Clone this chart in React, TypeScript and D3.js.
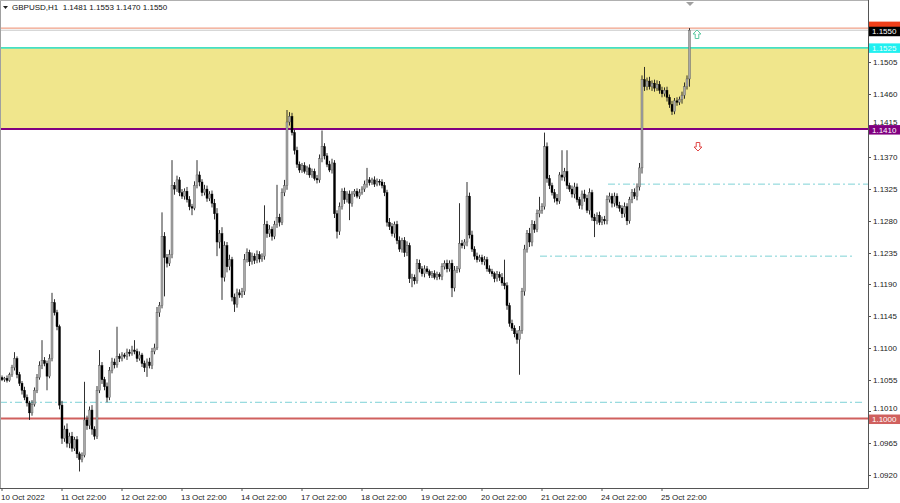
import React from 'react';
import * as d3 from 'd3';

const W = 900;
const H = 503;

// Hourly closes, in pips: price = 1 + v / 10000
const FIRST_OPEN_PIPS = 1058;
const CLOSE_PIPS = [
  1055,1057,1054,1062,1072,1085,1062,1050,1040,1030,1022,1008,1020,1040,1058,1075,1082,1078,1060,1085,1164,1150,1130,1019,
  972,985,965,975,958,970,950,942,948,998,990,1012,985,975,1040,1075,1055,1045,1030,1068,1080,1076,1088,1085,
  1090,1088,1094,1092,1097,1095,1085,1090,1078,1072,1080,1075,1095,1100,1150,1160,1258,1228,1220,1232,1330,1325,1338,1320,
  1315,1322,1310,1300,1298,1330,1345,1335,1320,1325,1312,1318,1305,1290,1250,1262,1200,1245,1215,1225,1172,1162,1178,1175,
  1180,1225,1235,1222,1230,1224,1232,1226,1230,1275,1262,1268,1258,1275,1285,1278,1320,1330,1420,1428,1405,1380,1360,1352,
  1358,1350,1355,1345,1350,1340,1338,1368,1385,1372,1360,1352,1362,1290,1265,1300,1322,1310,1318,1305,1318,1322,1315,1320,
  1325,1332,1338,1334,1338,1332,1336,1335,1330,1320,1278,1272,1262,1275,1252,1240,1252,1235,1245,1198,1200,1195,1220,1212,
  1205,1212,1208,1203,1205,1200,1204,1201,1215,1220,1212,1220,1185,1210,1212,1248,1245,1250,1315,1260,1240,1230,1225,1228,
  1222,1225,1212,1208,1205,1198,1204,1200,1192,1188,1160,1135,1128,1120,1112,1125,1180,1240,1262,1250,1275,1268,1290,1295,
  1300,1385,1340,1330,1320,1312,1308,1345,1342,1350,1330,1325,1318,1328,1310,1302,1318,1312,1295,1320,1285,1280,1288,1278,
  1282,1280,1310,1315,1305,1315,1302,1298,1290,1300,1280,1310,1320,1315,1328,1355,1480,1470,1478,1470,1475,1468,1473,1465,
  1460,1465,1455,1445,1435,1450,1448,1452,1458,1470,1481,1550,
];
// Upper wick above the body, in pips
const WICK_UP = [
  3,2,4,3,4,9,3,4,3,5,4,3,6,4,5,6,29,5,4,6,14,5,4,3,
  6,5,8,5,6,4,5,3,4,54,6,5,7,4,6,22,5,4,6,5,6,5,42,4,
  4,3,5,4,6,14,4,5,3,4,5,6,5,6,8,5,34,6,5,7,36,5,6,4,
  5,4,6,5,4,6,21,5,4,6,5,4,5,6,8,5,9,6,5,7,4,5,6,5,
  5,8,6,4,5,4,6,5,4,27,5,6,4,5,46,5,6,8,17,6,5,4,5,4,
  4,5,3,5,4,4,5,6,23,5,4,5,6,4,5,6,4,5,4,5,4,3,4,5,
  4,5,17,4,3,5,4,3,4,5,4,6,5,4,5,6,4,5,6,4,5,4,6,5,
  4,5,4,3,4,5,4,3,5,4,5,4,5,6,4,57,5,4,20,5,6,4,5,4,
  4,5,4,5,4,3,5,4,6,33,5,4,5,4,5,6,5,6,5,8,6,5,6,19,
  5,20,6,5,4,5,6,4,35,5,30,4,5,6,5,4,5,6,5,6,4,5,4,5,
  4,5,6,5,4,5,4,5,4,6,5,4,5,6,5,7,6,18,5,6,4,5,6,5,
  5,4,5,4,5,4,5,4,5,6,5,3,
];
// Lower wick below the body, in pips
const WICK_DN = [
  2,3,3,2,3,4,5,4,6,4,5,10,4,3,4,3,5,4,20,3,4,4,5,6,
  8,5,6,7,5,4,6,17,4,3,6,5,8,5,4,4,6,5,7,4,4,5,4,5,
  4,3,5,4,3,4,5,3,5,6,13,4,5,4,3,6,4,55,6,4,5,8,4,5,
  4,5,4,5,10,3,4,6,5,4,5,4,6,8,20,9,32,6,8,5,6,11,5,4,
  4,5,4,6,4,5,4,5,4,5,6,5,6,4,5,6,4,5,6,5,4,6,5,4,
  4,3,5,4,4,3,5,4,5,5,4,3,5,6,10,5,4,6,4,24,5,4,3,4,
  3,4,5,4,3,4,3,5,4,5,6,5,4,6,5,4,5,6,5,6,12,5,4,5,
  4,5,3,4,4,3,4,4,5,4,5,4,13,5,4,5,4,5,6,5,4,5,4,3,
  4,5,4,3,4,5,4,5,4,5,6,5,4,5,6,50,5,6,5,7,6,5,4,5,
  5,4,6,5,4,6,5,4,5,6,5,4,5,6,4,5,6,5,4,6,5,23,5,4,
  4,5,5,4,6,5,4,5,6,5,6,4,5,4,6,5,8,6,5,4,6,5,4,5,
  5,4,6,5,5,4,5,4,6,5,4,11,
];

const TIME_LABELS = [
  '10 Oct 2022', '11 Oct 22:00', '12 Oct 22:00', '13 Oct 22:00', '14 Oct 22:00', '17 Oct 22:00',
  '18 Oct 22:00', '19 Oct 22:00', '20 Oct 22:00', '21 Oct 22:00', '24 Oct 22:00', '25 Oct 22:00',
];
const TIME_LABEL_BARS = [0, 24, 48, 72, 96, 120, 144, 168, 192, 216, 240, 264];

const PRICE_TICKS = [
  1.1505, 1.1460, 1.1415, 1.1370, 1.1325, 1.1280, 1.1235, 1.1190, 1.1145,
  1.1100, 1.1055, 1.1010, 1.0965, 1.0920,
];

const HEADER = 'GBPUSD,H1  1.1481 1.1553 1.1470 1.1550';
const ZONE_LOW = 1.1410;
const ZONE_HIGH = 1.1525;
const SUPPORT = 1.1000;
const HIGH_LINE = 1.1553;
const BID = 1.1550;
const DASH_LEVELS = [
  { price: 1.1332, fromBar: 242.4, toBar: 346.4 },
  { price: 1.1230, fromBar: 215.2, toBar: 341.2 },
  { price: 1.1023, fromBar: -0.8, toBar: 344 },
];

const FONT = '"Liberation Sans", Arial, sans-serif';

export default function App() {
  const plotRight = 868;
  const plotBottom = 488;
  const x = d3.scaleLinear().domain([0, 275]).range([2, 2 + 275 * 2.5]);
  const y = d3.scaleLinear().domain([1.092, 1.1505]).range([475, 62]);
  const p = (v: number) => 1 + v / 10000;

  const candles = CLOSE_PIPS.map((c, i) => {
    const o = i === 0 ? FIRST_OPEN_PIPS : CLOSE_PIPS[i - 1];
    const hi = Math.max(o, c) + WICK_UP[i];
    const lo = Math.min(o, c) - WICK_DN[i];
    return { i, o: p(o), c: p(c), h: p(hi), l: p(lo) };
  });

  const tag = (price: number, label: string | null, bg: string, fg: string, key: string, dy = 0) => {
    const yy = y(price) + dy;
    return (
      <g key={key}>
        <rect x={plotRight + 1} y={yy - 4.5} width={W - plotRight - 1} height={9.5} fill={bg} />
        {label ? <text x={872} y={yy + 3} fontSize={8} fill={fg} fontFamily={FONT}>{label}</text> : null}
      </g>
    );
  };

  const upArrow = (cx: number, ty: number) =>
    `M${cx},${ty} L${cx - 4},${ty + 4} L${cx - 1.8},${ty + 4} L${cx - 1.8},${ty + 8.5} L${cx + 1.8},${ty + 8.5} L${cx + 1.8},${ty + 4} L${cx + 4},${ty + 4} Z`;
  const downArrow = (cx: number, by: number) =>
    `M${cx},${by} L${cx - 4},${by - 4} L${cx - 1.8},${by - 4} L${cx - 1.8},${by - 8.5} L${cx + 1.8},${by - 8.5} L${cx + 1.8},${by - 4} L${cx + 4},${by - 4} Z`;

  return (
    <svg width={W} height={H} style={{ position: 'absolute', left: 0, top: 0, background: '#fff' }}>
      <rect x={0} y={0} width={W} height={H} fill="#fff" />
      <rect x={0} y={y(ZONE_HIGH)} width={plotRight} height={y(ZONE_LOW) - y(ZONE_HIGH)} fill="#f0e68c" />
      <line x1={0} x2={plotRight} y1={y(HIGH_LINE)} y2={y(HIGH_LINE)} stroke="#ec8a6a" strokeWidth={1} />
      <line x1={0} x2={plotRight} y1={y(BID)} y2={y(BID)} stroke="#c8c8c8" strokeWidth={1} />
      <line x1={0} x2={plotRight} y1={y(ZONE_HIGH)} y2={y(ZONE_HIGH)} stroke="#45e0c4" strokeWidth={1.6} />
      <line x1={0} x2={plotRight} y1={y(ZONE_LOW)} y2={y(ZONE_LOW)} stroke="#800080" strokeWidth={2} />
      <line x1={0} x2={plotRight} y1={y(SUPPORT)} y2={y(SUPPORT)} stroke="#d0605e" strokeWidth={2} />
      {DASH_LEVELS.map((d, k) => (
        <line key={'dl' + k} x1={x(d.fromBar)} x2={x(d.toBar)} y1={y(d.price)} y2={y(d.price)}
          stroke="#7ed2d6" strokeWidth={1} strokeDasharray="7 3 2 3" />
      ))}
      {candles.map((d) => {
        const cx = x(d.i);
        const bull = d.c >= d.o;
        const top = y(Math.max(d.o, d.c));
        const bot = y(Math.min(d.o, d.c));
        return (
          <g key={'c' + d.i}>
            <line x1={cx} x2={cx} y1={y(d.h)} y2={y(d.l)} stroke="#1a1a1a" strokeWidth={0.9} />
            <rect x={cx - 1} y={top} width={2} height={Math.max(0.8, bot - top)}
              fill={bull ? '#a8a8a8' : '#000'} stroke={bull ? '#555' : '#000'} strokeWidth={0.4} />
          </g>
        );
      })}
      <path d={upArrow(697, 30)} fill="#fff" stroke="#5cc8a0" strokeWidth={1} />
      <path d={downArrow(698, 151)} fill="#fff" stroke="#e04848" strokeWidth={1} />
      <path d="M686,2 L694,2 L690,6 Z" fill="#a0a0a0" />
      <line x1={0.5} x2={0.5} y1={0} y2={plotBottom} stroke="#a0a0a0" />
      <line x1={0} x2={plotRight} y1={0.5} y2={0.5} stroke="#b0b0b0" />
      <line x1={plotRight + 0.5} x2={plotRight + 0.5} y1={0} y2={plotBottom + 0.5} stroke="#555" />
      <line x1={0} x2={plotRight + 0.5} y1={plotBottom + 0.5} y2={plotBottom + 0.5} stroke="#555" />
      {PRICE_TICKS.map((t) => {
        const near = Math.abs(t - ZONE_LOW) < 0.0008 || Math.abs(t - SUPPORT) < 0.0012;
        const shift = near ? -3.5 : 0;
        return (
          <g key={'pt' + t}>
            <line x1={plotRight} x2={plotRight + 3} y1={Math.round(y(t)) + 0.5} y2={Math.round(y(t)) + 0.5} stroke="#555" />
            <text x={873} y={y(t) + 3 + shift} fontSize={8} fill="#222" fontFamily={FONT}>{t.toFixed(4)}</text>
          </g>
        );
      })}
      {TIME_LABEL_BARS.map((b, k) => (
        <g key={'tl' + k}>
          <line x1={x(b)} x2={x(b)} y1={plotBottom} y2={plotBottom + 3} stroke="#555" />
          <text x={x(b) - 1} y={500} fontSize={8} fill="#222" fontFamily={FONT}>{TIME_LABELS[k]}</text>
        </g>
      ))}
      {tag(HIGH_LINE, null, '#f0401a', '#fff', 'thl', -2)}
      {tag(BID, BID.toFixed(4), '#000', '#fff', 'tbid', 1)}
      {tag(ZONE_HIGH, ZONE_HIGH.toFixed(4), '#20f0f0', '#e8ffff', 'tzh')}
      {tag(ZONE_LOW, ZONE_LOW.toFixed(4), '#800080', '#fff', 'tzl', 0.5)}
      {tag(SUPPORT, SUPPORT.toFixed(4), '#d0605e', '#fff', 'tsup', 0.5)}
      <path d="M3,6 L8,6 L5.5,9 Z" fill="#222" />
      <text x={12} y={10} fontSize={8} fill="#111" fontFamily={FONT} style={{ whiteSpace: 'pre' }}>{HEADER}</text>
    </svg>
  );
}
